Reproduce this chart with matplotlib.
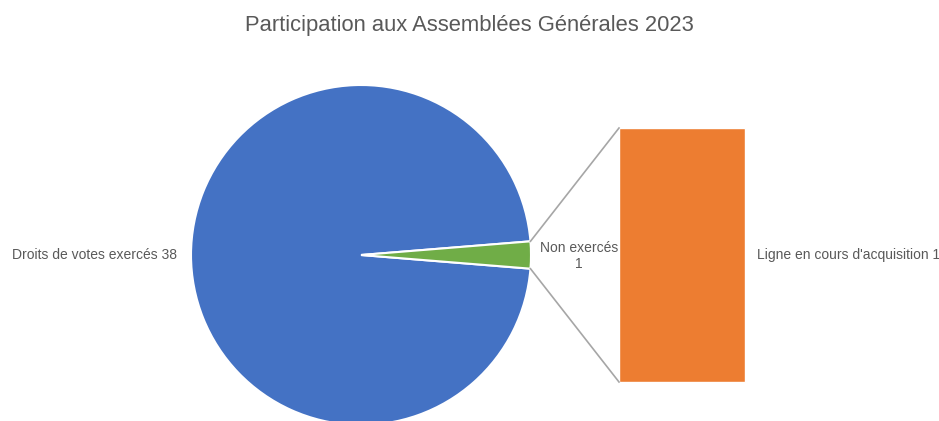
import numpy as np
import matplotlib
matplotlib.use("Agg")
import matplotlib.pyplot as plt

# data
pie_labels = ["Droits de votes exercés", "Non exercés"]
pie_values = [38, 1]
bar_labels = ["Ligne en cours d'acquisition"]
bar_values = [1]
title = "Participation aux Assemblées Générales 2023"

blue = "#4472C4"
green = "#70AD47"
orange = "#ED7D31"
text_color = "#595959"

plt.rcParams["font.family"] = ["Liberation Sans", "DejaVu Sans"]

W, H = 939, 421
fig = plt.figure(figsize=(W / 100, H / 100), dpi=100)
ax = fig.add_axes([0, 0, 1, 1])
ax.set_xlim(0, W)
ax.set_ylim(0, H)
ax.set_aspect("equal")
ax.axis("off")

# pie: "other" slice centred on the right side
cx, cy, r = 361, H - 255, 170
total = sum(pie_values)
start = 180 * pie_values[-1] / total
ax.pie(pie_values, colors=[blue, green], startangle=start, center=(cx, cy),
       radius=r, counterclock=True,
       wedgeprops=dict(edgecolor="white", linewidth=1.5))
ax.set_xlim(0, W)
ax.set_ylim(0, H)

# stacked bar for the split-out slice
bar_x, bar_w = 682, 126
bar_bottom, bar_h = H - 382, 254
scale = bar_h / sum(bar_values)
bottom = bar_bottom
for v in bar_values:
    ax.bar(bar_x, v * scale, width=bar_w, bottom=bottom, color=orange,
           edgecolor="white", linewidth=1)
    bottom += v * scale

# connector lines
half = np.deg2rad(start)
x0 = cx + r * np.cos(half)
ax.plot([x0, bar_x - bar_w / 2], [cy + r * np.sin(half), bar_bottom + bar_h],
        color="#A6A6A6", lw=1.2)
ax.plot([x0, bar_x - bar_w / 2], [cy - r * np.sin(half), bar_bottom],
        color="#A6A6A6", lw=1.2)

# labels
ax.text(12, cy, f"{pie_labels[0]} {pie_values[0]}", ha="left", va="center",
        fontsize=10, color=text_color)
ax.text(579, cy - 1, f"{pie_labels[1]}\n{pie_values[1]}", ha="center", va="center",
        fontsize=10, color=text_color, linespacing=1.2)
ax.text(757, cy, f"{bar_labels[0]} {bar_values[0]}", ha="left", va="center",
        fontsize=10, color=text_color)

ax.text(W / 2, H - 26, title, ha="center", va="center", fontsize=15.8,
        color=text_color)

fig.savefig("out.png", dpi=100)
